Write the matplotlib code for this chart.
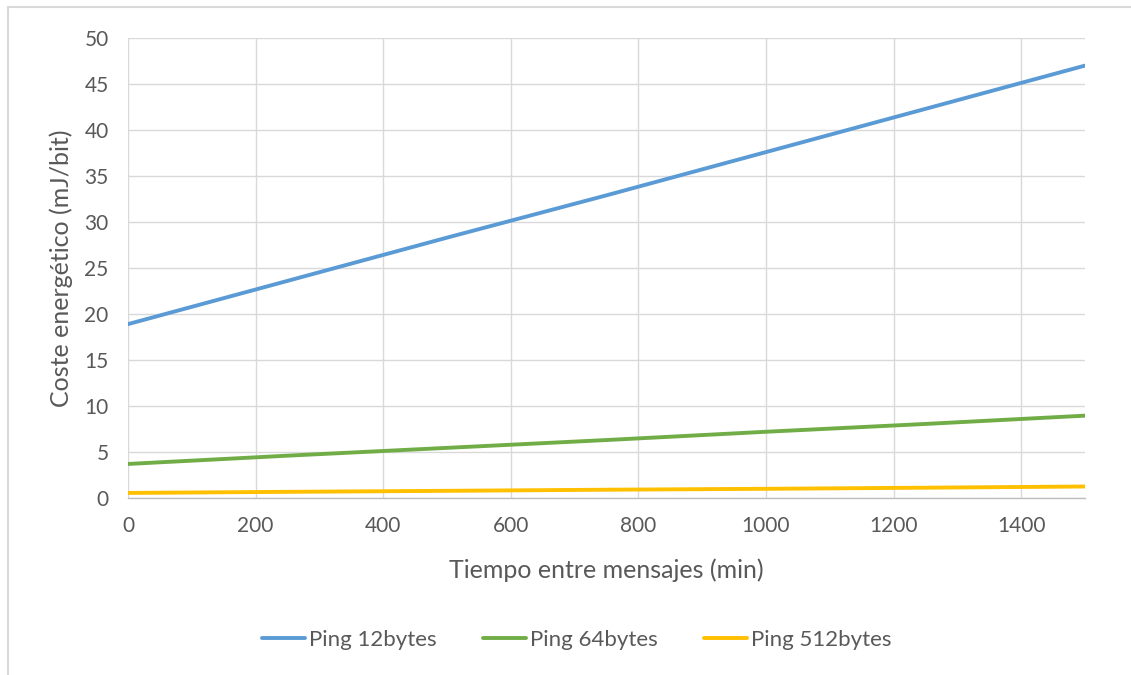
import matplotlib.pyplot as plt
import matplotlib.patches as mpatches

tiempo = [0, 250, 500, 750, 1000, 1250, 1500]
ping_12 = [18.9, 23.6, 28.3, 32.9, 37.6, 42.3, 47.0]
ping_64 = [3.7, 4.6, 5.45, 6.3, 7.2, 8.05, 8.95]
ping_512 = [0.55, 0.67, 0.78, 0.9, 1.0, 1.12, 1.25]

etiquetas = ['Ping 12bytes', 'Ping 64bytes', 'Ping 512bytes']
colores = ['#5B9BD5', '#70AD47', '#FFC000']
texto = '#595959'

plt.rcParams['font.family'] = ['Lato', 'DejaVu Sans']

fig = plt.figure(figsize=(11.31, 6.75), dpi=100)
ax = fig.add_axes([128/1131, 1 - 498/675, (1085 - 128)/1131, (498 - 38)/675])

# chart border (cropped on the right and bottom)
fig.patches.append(mpatches.Rectangle((8/1131, -0.1), 1.2, 1.1 - 7/675,
                                      transform=fig.transFigure, fill=False,
                                      edgecolor='#D9D9D9', linewidth=1.5))

for serie, color, lab in zip([ping_12, ping_64, ping_512], colores, etiquetas):
    ax.plot(tiempo, serie, color=color, linewidth=2.8, label=lab,
            solid_capstyle='round')

ax.set_xlim(0, 1500)
ax.set_ylim(0, 50)
ax.set_xticks(range(0, 1401, 200))
ax.set_yticks(range(0, 51, 5))
ax.grid(True, color='#D9D9D9', linewidth=1.0)
ax.set_axisbelow(True)
for s in ['top', 'right', 'left']:
    ax.spines[s].set_visible(False)
ax.spines['bottom'].set_color('#BFBFBF')
ax.spines['bottom'].set_linewidth(1.0)
ax.tick_params(length=0, labelsize=15, labelcolor=texto)
ax.tick_params(axis='y', pad=14)
ax.tick_params(axis='x', pad=13)

ax.set_xlabel('Tiempo entre mensajes (min)', fontsize=18, color=texto, labelpad=16)
ax.set_ylabel('Coste energético (mJ/bit)', fontsize=18, color=texto, labelpad=8)

fig.legend(loc='center', bbox_to_anchor=(577/1131, 1 - 640/675), ncol=3,
           frameon=False, fontsize=16, labelcolor=texto, handlelength=1.9,
           handletextpad=0.2, columnspacing=2.1)

fig.savefig('out.png', dpi=100)
